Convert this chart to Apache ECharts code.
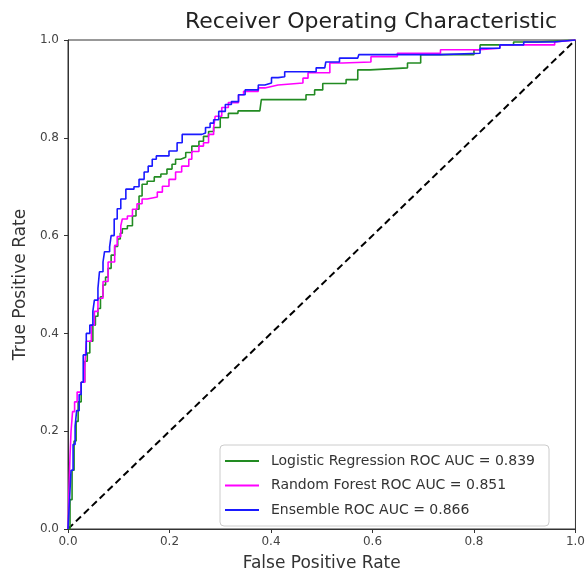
<!DOCTYPE html>
<html>
<head>
<meta charset="utf-8">
<script src="https://cdn.jsdelivr.net/npm/echarts@6/dist/echarts.min.js"></script>
<style>
	html, body { margin: 0; padding: 0; background: #fff; }
	#chart { width: 588px; height: 577px; }
</style>
</head>
<body>
<div id="chart"></div>
<script>
// ROC 曲线数据 (fpr, tpr)，从图上读出的拐点
var lrName = 'Logistic Regression ROC AUC = 0.839';
var rfName = 'Random Forest ROC AUC = 0.851';
var ensName = 'Ensemble ROC AUC = 0.866';

var lrFpr = [0, 0.004, 0.008, 0.012, 0.016, 0.02, 0.026, 0.033, 0.038, 0.043, 0.049, 0.054, 0.059, 0.064, 0.069, 0.074, 0.079, 0.085, 0.092, 0.098, 0.103, 0.107, 0.117, 0.127, 0.134, 0.14, 0.146, 0.156, 0.17, 0.183, 0.195, 0.205, 0.212, 0.222, 0.232, 0.244, 0.258, 0.267, 0.277, 0.287, 0.3, 0.316, 0.335, 0.378, 0.381, 0.463, 0.469, 0.486, 0.502, 0.548, 0.571, 0.595, 0.669, 0.695, 0.8, 0.812, 0.878, 0.924, 1];
var lrTpr = [0, 0.06, 0.12, 0.18, 0.22, 0.26, 0.3, 0.343, 0.36, 0.384, 0.417, 0.435, 0.451, 0.475, 0.499, 0.515, 0.533, 0.56, 0.578, 0.593, 0.605, 0.614, 0.62, 0.64, 0.654, 0.681, 0.705, 0.711, 0.72, 0.726, 0.736, 0.746, 0.756, 0.76, 0.77, 0.783, 0.793, 0.803, 0.813, 0.821, 0.841, 0.85, 0.855, 0.858, 0.878, 0.878, 0.888, 0.898, 0.911, 0.919, 0.939, 0.943, 0.953, 0.97, 0.98, 0.99, 0.996, 1, 1];

var rfFpr = [0, 0.002, 0.004, 0.006, 0.009, 0.013, 0.018, 0.026, 0.033, 0.036, 0.046, 0.052, 0.059, 0.069, 0.079, 0.092, 0.097, 0.104, 0.107, 0.117, 0.127, 0.136, 0.146, 0.156, 0.176, 0.186, 0.199, 0.212, 0.224, 0.238, 0.244, 0.258, 0.267, 0.277, 0.287, 0.29, 0.303, 0.316, 0.336, 0.346, 0.375, 0.388, 0.401, 0.414, 0.463, 0.473, 0.516, 0.541, 0.597, 0.649, 0.734, 0.81, 0.851, 0.959, 0.962, 1];
var rfTpr = [0, 0.08, 0.15, 0.2, 0.24, 0.26, 0.28, 0.3, 0.33, 0.384, 0.417, 0.445, 0.472, 0.506, 0.546, 0.58, 0.598, 0.62, 0.634, 0.64, 0.654, 0.665, 0.675, 0.679, 0.689, 0.701, 0.715, 0.73, 0.742, 0.756, 0.772, 0.783, 0.79, 0.807, 0.821, 0.844, 0.862, 0.872, 0.888, 0.895, 0.902, 0.905, 0.908, 0.912, 0.922, 0.933, 0.953, 0.955, 0.966, 0.973, 0.98, 0.983, 0.99, 0.996, 1, 1];

var ensFpr = [0, 0.003, 0.006, 0.01, 0.014, 0.017, 0.022, 0.026, 0.03, 0.036, 0.043, 0.049, 0.052, 0.059, 0.062, 0.069, 0.072, 0.082, 0.085, 0.091, 0.097, 0.104, 0.114, 0.13, 0.14, 0.15, 0.158, 0.166, 0.174, 0.199, 0.215, 0.225, 0.264, 0.271, 0.28, 0.287, 0.297, 0.31, 0.322, 0.336, 0.349, 0.375, 0.388, 0.401, 0.414, 0.427, 0.489, 0.506, 0.508, 0.535, 0.571, 0.573, 0.734, 0.812, 0.851, 0.898, 0.956, 1];
var ensTpr = [0, 0.06, 0.12, 0.173, 0.21, 0.242, 0.275, 0.3, 0.356, 0.4, 0.417, 0.445, 0.468, 0.492, 0.526, 0.546, 0.567, 0.577, 0.6, 0.634, 0.655, 0.675, 0.695, 0.7, 0.715, 0.73, 0.742, 0.756, 0.763, 0.773, 0.79, 0.807, 0.81, 0.821, 0.83, 0.837, 0.854, 0.868, 0.874, 0.888, 0.898, 0.908, 0.912, 0.923, 0.925, 0.935, 0.943, 0.946, 0.955, 0.963, 0.966, 0.97, 0.973, 0.983, 0.99, 0.996, 1, 1];

// 对角参考线
var diagX = [0, 1];
var diagY = [0, 1];

var axisTicks = [0, 0.2, 0.4, 0.6, 0.8, 1.0];

function pairs(xs, ys) {
	return xs.map(function (x, i) { return [x, ys[i]]; });
}

var myChart = echarts.init(document.getElementById('chart'));
var font = 'DejaVu Sans';

var option = {
	animation: false,
	backgroundColor: '#fff',
	title: {
		text: 'Receiver Operating Characteristic',
		left: 180,
		top: 6,
		textStyle: {
			fontFamily: font,
			fontSize: 22,
			fontWeight: 'normal',
			color: '#222'
		}
	},
	grid: {
		left: 68,
		right: 9,
		top: 40,
		bottom: 45,
		show: true,
		borderColor: '#333',
		borderWidth: 1,
		backgroundColor: 'transparent'
	},
	legend: {
		data: [lrName, rfName, ensName],
		orient: 'vertical',
		left: 220,
		top: 445,
		padding: [8, 14, 8, 5],
		itemGap: 8.5,
		itemWidth: 34,
		itemHeight: 2,
		icon: 'rect',
		backgroundColor: '#fff',
		borderColor: '#ccc',
		borderWidth: 1,
		borderRadius: 4,
		textStyle: {
			fontFamily: font,
			fontSize: 14,
			lineHeight: 16,
			color: '#333',
			padding: [0, 0, 0, 7]
		}
	},
	xAxis: {
		type: 'value',
		min: 0,
		max: 1,
		interval: 0.2,
		name: 'False Positive Rate',
		nameLocation: 'middle',
		nameGap: 26,
		nameTextStyle: { fontFamily: font, fontSize: 17, color: '#333' },
		axisLine: { lineStyle: { color: '#333' } },
		axisTick: { show: true, length: 4, lineStyle: { color: '#333' } },
		axisLabel: {
			margin: 7,
			fontFamily: font,
			fontSize: 12,
			color: '#444',
			formatter: function (v) { return v.toFixed(1); }
		},
		splitLine: { show: false }
	},
	yAxis: {
		type: 'value',
		min: 0,
		max: 1,
		interval: 0.2,
		name: 'True Positive Rate',
		nameLocation: 'middle',
		nameGap: 37,
		nameTextStyle: { fontFamily: font, fontSize: 17, color: '#333' },
		axisLine: { show: true, lineStyle: { color: '#333' } },
		axisTick: { show: true, length: 4, lineStyle: { color: '#333' } },
		axisLabel: {
			margin: 9,
			fontFamily: font,
			fontSize: 12,
			color: '#444',
			formatter: function (v) { return v.toFixed(1); }
		},
		splitLine: { show: false }
	},
	series: [{
		name: lrName,
		type: 'line',
		step: 'end',
		showSymbol: false,
		symbol: 'none',
		data: pairs(lrFpr, lrTpr),
		lineStyle: { color: '#228b22', width: 1.6 },
		itemStyle: { color: '#228b22' },
		z: 3
	}, {
		name: rfName,
		type: 'line',
		step: 'end',
		showSymbol: false,
		symbol: 'none',
		data: pairs(rfFpr, rfTpr),
		lineStyle: { color: '#ff00ff', width: 1.6 },
		itemStyle: { color: '#ff00ff' },
		z: 4
	}, {
		name: ensName,
		type: 'line',
		step: 'end',
		showSymbol: false,
		symbol: 'none',
		data: pairs(ensFpr, ensTpr),
		lineStyle: { color: '#1a1aff', width: 1.6 },
		itemStyle: { color: '#1a1aff' },
		z: 5
	}, {
		name: 'diag',
		type: 'line',
		showSymbol: false,
		symbol: 'none',
		data: pairs(diagX, diagY),
		lineStyle: { color: '#000', width: 2, type: [7, 4] },
		z: 2
	}]
};
myChart.setOption(option);
</script>
</body>
</html>
